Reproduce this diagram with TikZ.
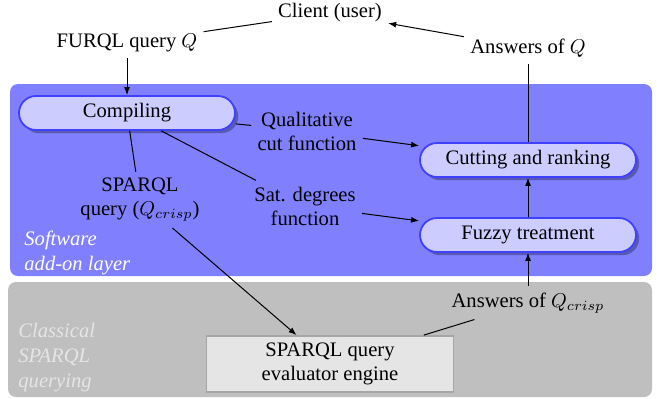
\documentclass[tikz,border=0pt]{standalone}
\usepackage{fontspec}
\setmainfont{Liberation Serif}
\usetikzlibrary{shadows,arrows.meta}
\begin{document}
\begin{tikzpicture}[x=0.5pt,y=-0.5pt,
  font=\fontsize{10.3}{12}\selectfont,
  proc/.style={rounded corners=8.5pt, draw=blue!75, line width=0.9pt, fill=blue!20,
    minimum width=108pt, minimum height=17pt, inner sep=1pt,
    drop shadow={shadow xshift=1.6pt, shadow yshift=-1.6pt, fill=black, opacity=0.3}},
  lbl/.style={align=center, inner sep=3pt},
  layerlbl/.style={align=left, anchor=west, inner sep=0pt, font=\fontsize{10.3}{12.5}\selectfont\itshape},
  arr/.style={-{Latex[length=4pt,width=3pt]}, line width=0.5pt},
  ln/.style={line width=0.5pt}]
\useasboundingbox (0,0) rectangle (657,398);
% panels
\fill[blue!50, rounded corners=4pt] (10,84) rectangle (652,276);
\fill[gray!50, rounded corners=4pt] (8,282) rectangle (652,397);
% layer labels
\node[layerlbl, text=white] (soft) at (24,253) {Software\\add-on layer};
\node[layerlbl, text=gray!20] (class) at (18,358) {Classical\\SPARQL\\querying};
% top labels
\node[lbl] (client) at (330,13) {Client (user)};
\node[lbl] (furql) at (127,43) {FURQL query $Q$};
\node[lbl] (ansq) at (528,48) {Answers of $Q$};
% process nodes
\node[proc] (comp) at (127,113) {Compiling};
\node[proc] (cut) at (528,160) {Cutting and ranking};
\node[proc] (fuzzy) at (528,235) {Fuzzy treatment};
\node[draw=gray!70, fill=gray!20, line width=0.9pt, minimum width=123.5pt, minimum height=28pt, align=center, inner sep=1pt] (eng) at (330,364) {SPARQL query\\evaluator engine};
% intermediate labels
\node[lbl] (qual) at (307,131) {Qualitative\\cut function};
\node[lbl] (sat) at (305,206) {Sat. degrees\\function};
\node[lbl] (sparql) at (140,200) {SPARQL\\query ($Q_{crisp}$)};
\node[lbl] (ansc) at (528,303) {Answers of $Q_{crisp}$};
% connectors
\draw[ln] (furql) -- (client);
\draw[arr] (ansq) -- (client);
\draw[arr] (furql) -- (comp);
\draw[ln] (comp) -- (qual);
\draw[arr] (qual) -- (cut);
\draw[ln] (comp) -- (sat);
\draw[arr] (sat) -- (fuzzy);
\draw[ln] (comp) -- (sparql);
\draw[arr] (sparql) -- (eng);
\draw[ln] (eng) -- (ansc);
\draw[arr] (ansc) -- (fuzzy);
\draw[arr] (fuzzy) -- (cut);
\draw[ln] (cut) -- (ansq);
\end{tikzpicture}
\end{document}
